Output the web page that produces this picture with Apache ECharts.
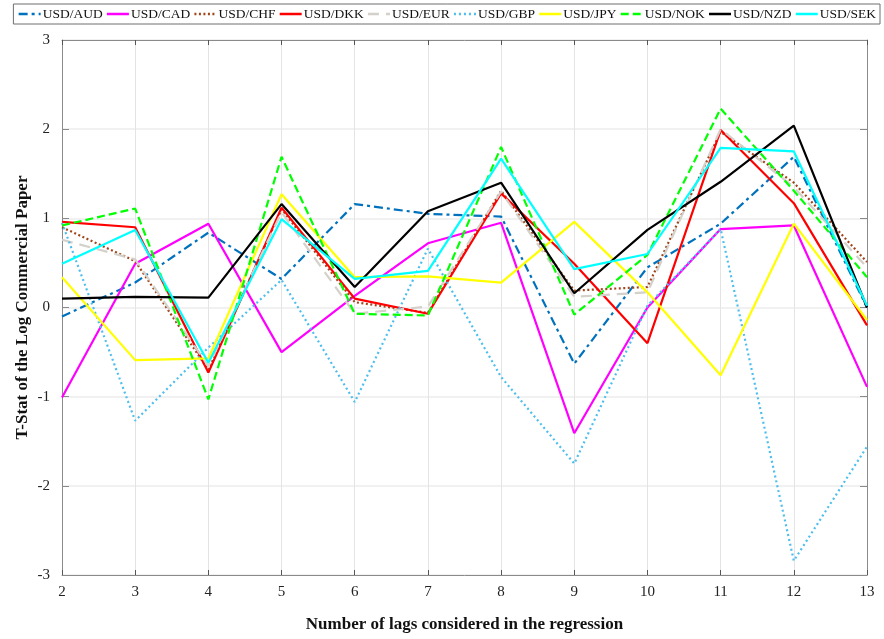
<!DOCTYPE html>
<html>
<head>
<meta charset="utf-8">
<script src="https://cdn.jsdelivr.net/npm/echarts@6/dist/echarts.min.js"></script>
<style>
  html, body { margin: 0; padding: 0; background: #fff; }
  #chart { width: 884px; height: 639px; }
</style>
</head>
<body>
<div id="chart"></div>
<script>
// Lag counts on the horizontal axis
const lags = [2, 3, 4, 5, 6, 7, 8, 9, 10, 11, 12, 13];

// T-statistics per currency pair, one value per lag
const usdAud = [-0.10, 0.28, 0.84, 0.32, 1.16, 1.05, 1.02, -0.63, 0.45, 0.94, 1.69, 0.00];
const usdCad = [-1.01, 0.49, 0.94, -0.50, 0.13, 0.72, 0.95, -1.41, 0.00, 0.88, 0.92, -0.89];
const usdChf = [0.90, 0.52, -0.70, 1.10, 0.06, -0.06, 1.31, 0.19, 0.23, 1.97, 1.40, 0.51];
const usdDkk = [0.96, 0.90, -0.73, 1.12, 0.10, -0.07, 1.28, 0.49, -0.40, 1.99, 1.17, -0.20];
const usdEur = [0.76, 0.54, -0.66, 1.07, -0.07, 0.01, 1.30, 0.12, 0.17, 2.00, 1.35, 0.45];
const usdGbp = [0.95, -1.27, -0.45, 0.31, -1.06, 0.66, -0.78, -1.75, 0.02, 0.88, -2.84, -1.56];
const usdJpy = [0.34, -0.59, -0.57, 1.27, 0.34, 0.35, 0.28, 0.96, 0.17, -0.76, 0.94, -0.14];
const usdNok = [0.92, 1.11, -1.03, 1.69, -0.07, -0.09, 1.80, -0.08, 0.59, 2.23, 1.31, 0.34];
const usdNzd = [0.10, 0.12, 0.11, 1.16, 0.23, 1.08, 1.40, 0.16, 0.87, 1.41, 2.04, 0.00];
const usdSek = [0.49, 0.87, -0.62, 0.99, 0.32, 0.41, 1.67, 0.43, 0.60, 1.79, 1.75, 0.02];

// y-axis tick values
const yTicks = [-3, -2, -1, 0, 1, 2, 3];

const seriesDefs = [
  { name: 'USD/AUD', data: usdAud, color: '#0072BD', type: [9, 4, 3, 4] },
  { name: 'USD/CAD', data: usdCad, color: '#FF00FF', type: 'solid' },
  { name: 'USD/CHF', data: usdChf, color: '#A0441A', type: [2, 2.5] },
  { name: 'USD/DKK', data: usdDkk, color: '#FF0000', type: 'solid' },
  { name: 'USD/EUR', data: usdEur, color: '#D4D0CA', type: [11, 7] },
  { name: 'USD/GBP', data: usdGbp, color: '#4DBEEE', type: [2, 3] },
  { name: 'USD/JPY', data: usdJpy, color: '#FFFF00', type: 'solid' },
  { name: 'USD/NOK', data: usdNok, color: '#00FF00', type: [8, 4] },
  { name: 'USD/NZD', data: usdNzd, color: '#000000', type: 'solid' },
  { name: 'USD/SEK', data: usdSek, color: '#00FFFF', type: 'solid' }
];

const serif = '"Liberation Serif", "Times New Roman", serif';
const axisGray = '#8a8a8a';

const chart = echarts.init(document.getElementById('chart'), null, { renderer: 'canvas' });

const xBase = {
  type: 'value', min: 2, max: 13, interval: 1,
  axisLine: { show: true, onZero: false, lineStyle: { color: axisGray, width: 1 } },
  axisTick: { show: true, inside: true, length: 5, lineStyle: { color: '#555' } }
};
const yBase = {
  type: 'value', min: yTicks[0], max: yTicks[yTicks.length - 1], interval: 1,
  axisLine: { show: true, onZero: false, lineStyle: { color: axisGray, width: 1 } },
  axisTick: { show: true, inside: true, length: 7, lineStyle: { color: axisGray } }
};

chart.setOption({
  animation: false,
  backgroundColor: '#fff',
  grid: { left: 62, right: 17, top: 40, bottom: 64, show: false },
  legend: {
    top: 4, right: 4,
    data: seriesDefs.map(s => s.name),
    itemWidth: 22, itemHeight: 10, itemGap: 3,
    padding: [3, 4, 3, 4],
    borderColor: '#6e6e6e', borderWidth: 1,
    itemStyle: { opacity: 0 },
    lineStyle: { width: 2.5 },
    textStyle: { fontFamily: serif, fontSize: 13.5, color: '#111', padding: [0, 0, 0, -3] }
  },
  xAxis: [
    Object.assign({}, xBase, {
      position: 'bottom',
      name: 'Number of lags considered in the regression',
      nameLocation: 'middle', nameGap: 41,
      nameTextStyle: { fontFamily: serif, fontSize: 17, fontWeight: 'bold', color: '#111' },
      axisLabel: { fontFamily: serif, fontSize: 15, color: '#222', margin: 10 },
      splitLine: { show: true, lineStyle: { color: '#e4e4e4', width: 1 } }
    }),
    Object.assign({}, xBase, {
      position: 'top', axisLabel: { show: false }, splitLine: { show: false }
    })
  ],
  yAxis: [
    Object.assign({}, yBase, {
      position: 'left',
      name: 'T-Stat of the Log Commercial Paper',
      nameLocation: 'middle', nameGap: 31,
      nameMoveOverlap: false,
      nameTextStyle: { fontFamily: serif, fontSize: 17, fontWeight: 'bold', color: '#111' },
      axisLabel: { fontFamily: serif, fontSize: 15, color: '#222', margin: 12 },
      splitLine: { show: true, lineStyle: { color: '#ececec', width: 1.5 } }
    }),
    Object.assign({}, yBase, {
      position: 'right', axisLabel: { show: false }, splitLine: { show: false }
    })
  ],
  series: seriesDefs.map(s => ({
    name: s.name,
    type: 'line',
    xAxisIndex: 0, yAxisIndex: 0,
    data: s.data.map((v, i) => [lags[i], v]),
    symbol: 'none',
    color: s.color,
    lineStyle: { color: s.color, width: 2.2, type: s.type },
    z: 3
  }))
});
</script>
</body>
</html>
